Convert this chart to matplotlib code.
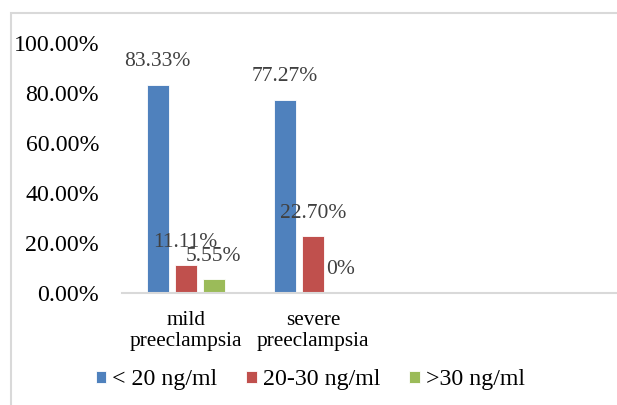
import matplotlib
matplotlib.use("Agg")
import matplotlib.pyplot as plt
from matplotlib.patches import Rectangle
import numpy as np

categories = ["mild\npreeclampsia", "severe\npreeclampsia"]
series_names = ["< 20 ng/ml", "20-30 ng/ml", ">30 ng/ml"]
low_vals = [0.8333, 0.7727]
mid_vals = [0.1111, 0.2270]
high_vals = [0.0555, 0.0]
label_texts = [["83.33%", "77.27%"], ["11.11%", "22.70%"], ["5.55%", "0%"]]
colors = ["#4F81BD", "#C0504D", "#9BBB59"]
yticks = [0, 0.2, 0.4, 0.6, 0.8, 1.0]
ytick_labels = ["0.00%", "20.00%", "40.00%", "60.00%", "80.00%", "100.00%"]

plt.rcParams['font.family'] = ['Liberation Serif', 'DejaVu Serif']

W, H = 617, 405
fig = plt.figure(figsize=(W / 100, H / 100), dpi=100)
ax = fig.add_axes([122 / W, 1 - 293 / H, (W - 122) / W, 250 / H])

x = np.arange(len(categories))
width = 0.173
offs = [-0.22, 0.0, 0.22]
series = [low_vals, mid_vals, high_vals]
for i, (vals, c, name) in enumerate(zip(series, colors, series_names)):
    ax.bar(x + offs[i], vals, width, color=c, label=name,
           edgecolor='white', linewidth=0.6)
    for j, v in enumerate(vals):
        ax.annotate(label_texts[i][j], (x[j] + offs[i], v), xytext=(0, 16.6),
                    textcoords='offset points', ha='center', va='center',
                    fontsize=15.5, color='#404040')

ax.set_xlim(-0.5, 3.39)
ax.set_ylim(0, 1.0)
ax.set_yticks(yticks)
ax.set_yticklabels(ytick_labels, fontsize=17.2)
ax.set_xticks(x)
ax.set_xticklabels(categories, fontsize=15.3, linespacing=1.12)
ax.tick_params(axis='both', length=0)
ax.tick_params(axis='y', pad=16.5)
ax.tick_params(axis='x', pad=13)
for s in ['top', 'right', 'left']:
    ax.spines[s].set_visible(False)
ax.spines['bottom'].set_color('#D9D9D9')
ax.spines['bottom'].set_linewidth(1.5)

fig.legend(loc='center', bbox_to_anchor=(310 / W, 1 - 380 / H), ncol=3,
           frameon=False, fontsize=17.2, handlelength=0.45, handleheight=0.45,
           handletextpad=0.25, columnspacing=1.2)

fig.patches.append(Rectangle((11 / W, -0.1), 2, (1 - 13 / H) + 0.1, fill=False,
                             edgecolor='#D9D9D9', linewidth=1.5,
                             transform=fig.transFigure, figure=fig))

fig.savefig("out.png", dpi=100)
